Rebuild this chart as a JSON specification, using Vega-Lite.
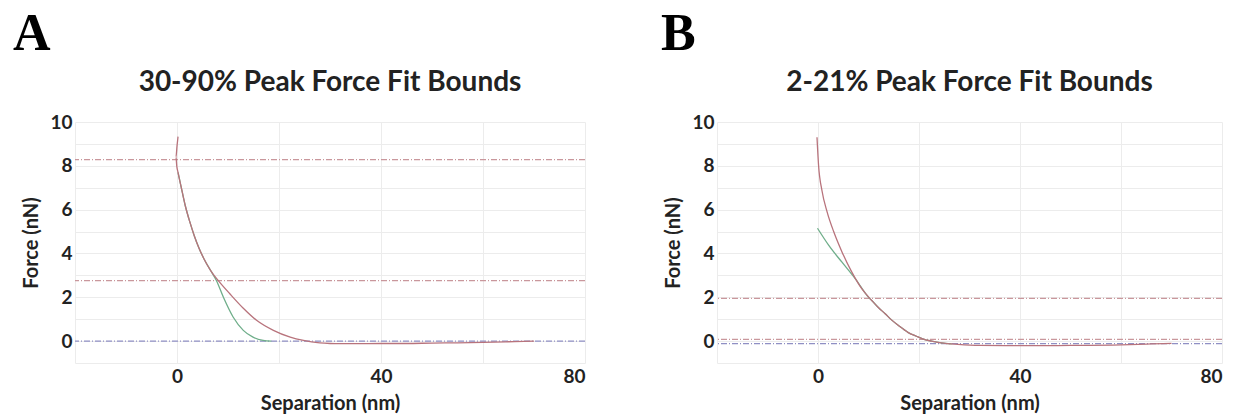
{
  "$schema": "https://vega.github.io/schema/vega-lite/v6.json",
  "background": "white",
  "padding": {"left": 12, "top": 8, "right": 5, "bottom": 2},
  "config": {
    "view": {"stroke": null},
    "axis": {
      "grid": true, "gridColor": "#ececec", "gridWidth": 1,
      "domain": false, "ticks": false,
      "labelFont": "Lato", "labelFontWeight": "bold", "labelFontSize": 19, "labelColor": "#222",
      "titleFont": "Lato", "titleFontWeight": "bold", "titleFontSize": 20, "titleColor": "#222"
    }
  },
  "datasets": {
    "a_red": [
      {"i": 1, "x": 0.2, "y": 9.33}, {"i": 2, "x": 0.0, "y": 8.9}, {"i": 3, "x": -0.2, "y": 8.4}, {"i": 4, "x": -0.05, "y": 8.0},
      {"i": 5, "x": 0.2, "y": 7.7}, {"i": 6, "x": 0.8, "y": 7.05}, {"i": 7, "x": 1.6, "y": 6.2}, {"i": 8, "x": 2.5, "y": 5.45},
      {"i": 9, "x": 3.4, "y": 4.8}, {"i": 10, "x": 4.3, "y": 4.25}, {"i": 11, "x": 5.3, "y": 3.75}, {"i": 12, "x": 6.6, "y": 3.22},
      {"i": 13, "x": 8.1, "y": 2.76}, {"i": 14, "x": 10.4, "y": 2.15}, {"i": 15, "x": 13.0, "y": 1.5}, {"i": 16, "x": 15.6, "y": 0.95},
      {"i": 17, "x": 18.9, "y": 0.49}, {"i": 18, "x": 22.2, "y": 0.18}, {"i": 19, "x": 24.8, "y": 0.03}, {"i": 20, "x": 28.0, "y": -0.08},
      {"i": 21, "x": 30.0, "y": -0.11}, {"i": 22, "x": 32.0, "y": -0.12}, {"i": 23, "x": 35.0, "y": -0.12}, {"i": 24, "x": 40.0, "y": -0.11},
      {"i": 25, "x": 45.0, "y": -0.11}, {"i": 26, "x": 50.0, "y": -0.09}, {"i": 27, "x": 55.0, "y": -0.08}, {"i": 28, "x": 60.0, "y": -0.06},
      {"i": 29, "x": 65.0, "y": -0.03}, {"i": 30, "x": 68.0, "y": -0.01}, {"i": 31, "x": 70.0, "y": 0.0}
    ],
    "a_green": [
      {"i": 1, "x": 0.2, "y": 7.7}, {"i": 2, "x": 0.8, "y": 7.05}, {"i": 3, "x": 1.6, "y": 6.2}, {"i": 4, "x": 2.5, "y": 5.45},
      {"i": 5, "x": 3.4, "y": 4.8}, {"i": 6, "x": 4.3, "y": 4.25}, {"i": 7, "x": 5.3, "y": 3.75}, {"i": 8, "x": 6.6, "y": 3.22},
      {"i": 9, "x": 7.7, "y": 2.78}, {"i": 10, "x": 9.1, "y": 2.0}, {"i": 11, "x": 11.0, "y": 1.1}, {"i": 12, "x": 13.0, "y": 0.49},
      {"i": 13, "x": 14.9, "y": 0.18}, {"i": 14, "x": 16.9, "y": 0.03}, {"i": 15, "x": 18.5, "y": 0.0}
    ],
    "a_lines": [
      {"y": 8.28, "kind": "bound"}, {"y": 2.76, "kind": "bound"}, {"y": 0.0, "kind": "baseline"}
    ],
    "b_red": [
      {"i": 1, "x": -0.2, "y": 9.3}, {"i": 2, "x": 0.1, "y": 8.06}, {"i": 3, "x": 0.8, "y": 6.85}, {"i": 4, "x": 1.8, "y": 5.9},
      {"i": 5, "x": 3.1, "y": 5.0}, {"i": 6, "x": 4.75, "y": 4.07}, {"i": 7, "x": 6.7, "y": 3.15}, {"i": 8, "x": 8.7, "y": 2.38},
      {"i": 9, "x": 10.7, "y": 1.84}, {"i": 10, "x": 12.0, "y": 1.52}, {"i": 11, "x": 13.3, "y": 1.25}, {"i": 12, "x": 14.5, "y": 0.98},
      {"i": 13, "x": 16.0, "y": 0.7}, {"i": 14, "x": 17.8, "y": 0.4}, {"i": 15, "x": 19.5, "y": 0.22}, {"i": 16, "x": 21.0, "y": 0.08},
      {"i": 17, "x": 22.5, "y": 0.0}, {"i": 18, "x": 24.4, "y": -0.08}, {"i": 19, "x": 27.7, "y": -0.15}, {"i": 20, "x": 32.0, "y": -0.2},
      {"i": 21, "x": 40.0, "y": -0.21}, {"i": 22, "x": 50.0, "y": -0.2}, {"i": 23, "x": 60.0, "y": -0.17}, {"i": 24, "x": 66.0, "y": -0.13},
      {"i": 25, "x": 70.0, "y": -0.1}
    ],
    "b_green": [
      {"i": 1, "x": -0.1, "y": 5.15}, {"i": 2, "x": 2.1, "y": 4.38}, {"i": 3, "x": 4.75, "y": 3.6}, {"i": 4, "x": 7.4, "y": 2.84},
      {"i": 5, "x": 10.0, "y": 2.0}, {"i": 6, "x": 10.7, "y": 1.84}, {"i": 7, "x": 12.0, "y": 1.52}, {"i": 8, "x": 13.3, "y": 1.25},
      {"i": 9, "x": 14.5, "y": 0.98}, {"i": 10, "x": 16.0, "y": 0.7}, {"i": 11, "x": 17.8, "y": 0.4}, {"i": 12, "x": 19.5, "y": 0.22},
      {"i": 13, "x": 21.0, "y": 0.08}, {"i": 14, "x": 22.5, "y": 0.0}, {"i": 15, "x": 24.4, "y": -0.08}, {"i": 16, "x": 26.5, "y": -0.13}
    ],
    "b_lines": [
      {"y": 1.95, "kind": "bound"}, {"y": 0.08, "kind": "bound"}, {"y": -0.12, "kind": "baseline"}
    ]
  },
  "hconcat": [
    {
      "title": {"text": "A", "anchor": "start", "font": "Liberation Serif", "fontSize": 52, "fontWeight": "bold", "color": "#000", "offset": 8, "dx": -9},
      "vconcat": [
        {
          "title": {"text": "30-90% Peak Force Fit Bounds", "font": "Lato", "fontSize": 28, "fontWeight": "bold", "color": "#222", "anchor": "middle", "offset": 16},
          "width": 510, "height": 241,
          "encoding": {
            "x": {"type": "quantitative", "scale": {"domain": [-20, 80], "nice": false, "zero": false},
                  "axis": {"title": "Separation (nm)", "values": [-20, 0, 20, 40, 60, 80], "labelExpr": "datum.value >= 0 && datum.value % 40 == 0 ? datum.label : ''", "labelPadding": 4, "titlePadding": 7}},
            "y": {"type": "quantitative", "scale": {"domain": [-1, 10], "nice": false},
                  "axis": {"title": "Force (nN)", "values": [-1, 0, 1, 2, 3, 4, 5, 6, 7, 8, 9, 10], "labelExpr": "datum.value >= 0 && datum.value % 2 == 0 ? datum.label : ''", "labelPadding": 3, "titlePadding": 8}}
          },
          "layer": [
            {"data": {"name": "a_lines"}, "mark": {"type": "rule", "strokeDash": [6, 2, 1, 2], "strokeWidth": 1.3},
             "encoding": {"y": {"field": "y", "type": "quantitative"},
                          "color": {"field": "kind", "type": "nominal", "scale": {"domain": ["bound", "baseline"], "range": ["#c9979c", "#8f8fc4"]}, "legend": null}}},
            {"data": {"name": "a_green"}, "mark": {"type": "line", "color": "#6fae8a", "strokeWidth": 1.3, "interpolate": "monotone"},
             "encoding": {"x": {"field": "x", "type": "quantitative"}, "y": {"field": "y", "type": "quantitative"}, "order": {"field": "i", "type": "quantitative"}}},
            {"data": {"name": "a_red"}, "mark": {"type": "line", "color": "#b8737c", "strokeWidth": 1.3, "interpolate": "monotone"},
             "encoding": {"x": {"field": "x", "type": "quantitative"}, "y": {"field": "y", "type": "quantitative"}, "order": {"field": "i", "type": "quantitative"}}}
          ]
        }
      ]
    },
    {
      "title": {"text": "B", "anchor": "start", "font": "Liberation Serif", "fontSize": 52, "fontWeight": "bold", "color": "#000", "offset": 8, "dx": -3},
      "vconcat": [
        {
          "title": {"text": "2-21% Peak Force Fit Bounds", "font": "Lato", "fontSize": 28, "fontWeight": "bold", "color": "#222", "anchor": "middle", "offset": 16},
          "width": 505, "height": 241,
          "encoding": {
            "x": {"type": "quantitative", "scale": {"domain": [-20, 80], "nice": false, "zero": false},
                  "axis": {"title": "Separation (nm)", "values": [-20, 0, 20, 40, 60, 80], "labelExpr": "datum.value >= 0 && datum.value % 40 == 0 ? datum.label : ''", "labelPadding": 4, "titlePadding": 7}},
            "y": {"type": "quantitative", "scale": {"domain": [-1, 10], "nice": false},
                  "axis": {"title": "Force (nN)", "values": [-1, 0, 1, 2, 3, 4, 5, 6, 7, 8, 9, 10], "labelExpr": "datum.value >= 0 && datum.value % 2 == 0 ? datum.label : ''", "labelPadding": 3, "titlePadding": 8}}
          },
          "layer": [
            {"data": {"name": "b_lines"}, "mark": {"type": "rule", "strokeDash": [6, 2, 1, 2], "strokeWidth": 1.3},
             "encoding": {"y": {"field": "y", "type": "quantitative"},
                          "color": {"field": "kind", "type": "nominal", "scale": {"domain": ["bound", "baseline"], "range": ["#c9979c", "#8f8fc4"]}, "legend": null}}},
            {"data": {"name": "b_green"}, "mark": {"type": "line", "color": "#6fae8a", "strokeWidth": 1.3, "interpolate": "monotone"},
             "encoding": {"x": {"field": "x", "type": "quantitative"}, "y": {"field": "y", "type": "quantitative"}, "order": {"field": "i", "type": "quantitative"}}},
            {"data": {"name": "b_red"}, "mark": {"type": "line", "color": "#b8737c", "strokeWidth": 1.3, "interpolate": "monotone"},
             "encoding": {"x": {"field": "x", "type": "quantitative"}, "y": {"field": "y", "type": "quantitative"}, "order": {"field": "i", "type": "quantitative"}}}
          ]
        }
      ]
    }
  ],
  "spacing": 74
}
